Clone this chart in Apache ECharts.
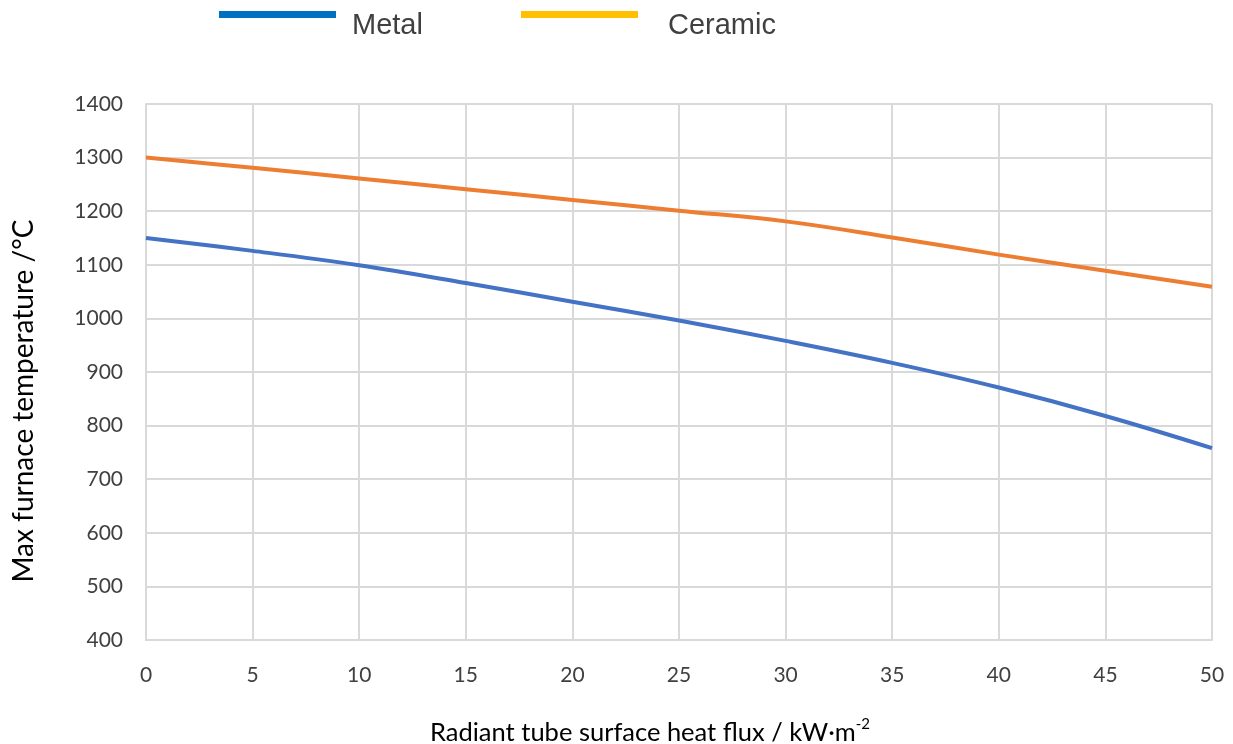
<!DOCTYPE html>
<html>
<head>
<meta charset="utf-8">
<script src="https://cdn.jsdelivr.net/npm/echarts@6/dist/echarts.min.js"></script>
<style>html,body{margin:0;padding:0;background:#fff}#chart{width:1233px;height:744px}</style>
</head>
<body>
<div id="chart"></div>
<script>
const heatFlux = [0, 5, 10, 15, 20, 25, 30, 35, 40, 45, 50];
const metalTemp = [1150, 1126, 1099, 1066, 1031, 996, 958, 917, 871, 818, 758];
const ceramicTemp = [1300, 1281, 1261, 1241, 1221, 1201, 1181, 1151, 1119, 1089, 1059];
const seriesNames = ['Metal', 'Ceramic'];
const yTicks = [400, 1400, 100];
const xTicks = [0, 50, 5];

const chart = echarts.init(document.getElementById('chart'), null, {renderer: 'canvas'});
const pair = (xs, ys) => xs.map((x, i) => [x, ys[i]]);
const legendBase = {
  top: 11, padding: 0, icon: 'rect', itemWidth: 117, itemHeight: 7,
  formatter: () => '', textStyle: {fontSize: 1}
};
chart.setOption({
  animation: false,
  backgroundColor: '#ffffff',
  grid: {left: 146, right: 21, top: 104, bottom: 104, containLabel: false, outerBoundsMode: 'none'},
  legend: [
    Object.assign({}, legendBase, {left: 219, data: [{name: seriesNames[0], itemStyle: {color: '#0070C0'}}]}),
    Object.assign({}, legendBase, {left: 521, data: [{name: seriesNames[1], itemStyle: {color: '#FFC000'}}]})
  ],
  graphic: [
    {type: 'text', left: 352, top: 11, style: {text: seriesNames[0], font: '29px "Liberation Sans"', fill: '#404040'}},
    {type: 'text', left: 668, top: 11, style: {text: seriesNames[1], font: '29px "Liberation Sans"', fill: '#404040'}}
  ],
  xAxis: {
    type: 'value', min: xTicks[0], max: xTicks[1], interval: xTicks[2],
    name: '{t|Radiant tube surface heat flux / kW·m}{s|-2}',
    nameLocation: 'middle', nameGap: 77,
    nameTextStyle: {
      padding: [0, 58, 0, 0],
      rich: {
        t: {fontFamily: 'Lato', fontSize: 25.5, color: '#000000', verticalAlign: 'bottom'},
        s: {fontFamily: 'Lato', fontSize: 15, color: '#000000', verticalAlign: 'top', padding: [0, 0, 14, 0]}
      }
    },
    axisLine: {show: true, lineStyle: {color: '#D9D9D9', width: 2}},
    axisTick: {show: false},
    axisLabel: {fontFamily: 'Lato', fontSize: 21, color: '#404040', margin: 25},
    splitLine: {show: true, lineStyle: {color: '#D9D9D9', width: 2}}
  },
  yAxis: {
    type: 'value', min: yTicks[0], max: yTicks[1], interval: yTicks[2],
    name: 'Max furnace temperature /°C',
    nameLocation: 'middle', nameGap: 108, nameRotate: 90,
    nameTextStyle: {fontFamily: 'Lato', fontSize: 28, color: '#000000', padding: [0, 58, 0, 0]},
    axisLine: {show: true, lineStyle: {color: '#D9D9D9', width: 2}},
    axisTick: {show: false},
    axisLabel: {fontFamily: 'Lato', fontSize: 21, color: '#404040', margin: 23, formatter: v => String(v)},
    splitLine: {show: true, lineStyle: {color: '#D9D9D9', width: 2}}
  },
  series: [
    {name: seriesNames[0], type: 'line', smooth: 0.4, symbol: 'none',
     data: pair(heatFlux, metalTemp), lineStyle: {color: '#4472C4', width: 4}, itemStyle: {color: '#0070C0'}},
    {name: seriesNames[1], type: 'line', smooth: 0.4, symbol: 'none',
     data: pair(heatFlux, ceramicTemp), lineStyle: {color: '#ED7D31', width: 4}, itemStyle: {color: '#FFC000'}}
  ]
});
</script>
</body>
</html>
